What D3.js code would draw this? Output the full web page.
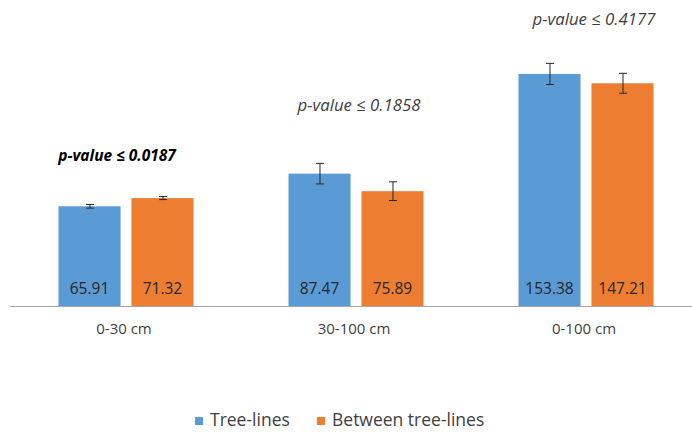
<!DOCTYPE html>
<html>
<head>
<meta charset="utf-8">
<script src="https://cdn.jsdelivr.net/npm/d3@7"></script>
<style>
  body { margin: 0; background: #fff; }
  svg { font-family: "Open Sans", "Noto Sans", sans-serif; }
</style>
</head>
<body>
<svg width="692" height="432"></svg>
<script>
// depth classes along the x axis
var categories = ["0-30 cm", "30-100 cm", "0-100 cm"];
var seriesNames = ["Tree-lines", "Between tree-lines"];
var treeLines = [65.91, 87.47, 153.38];
var betweenLines = [71.32, 75.89, 147.21];
// error bar half-widths
var treeErr = [1.2, 6.8, 7.0];
var betweenErr = [1.0, 6.2, 6.6];
var pValues = ["p-value ≤ 0.0187", "p-value ≤ 0.1858", "p-value ≤ 0.4177"];
var pBold = [true, false, false];
// level (in chart units) where each p-value note sits
var pLevel = [96, 129, 186];

var colors = ["#5B9BD5", "#ED7D31"];
var pShift = [-9, 3, 8];

var svg = d3.select("svg"),
  baseY = 306;

var x0 = d3.scaleBand()
  .domain(categories)
  .range([11, 701])
  .paddingInner(0.413)
  .paddingOuter(0.2065);

var x1 = d3.scaleBand()
  .domain(seriesNames)
  .range([0, x0.bandwidth()])
  .paddingInner(0.15);

var y = d3.scaleLinear()
  .domain([0, 200])
  .range([baseY, baseY - 200 * 1.513]);

var rows = categories.map(function(c, i) {
  return {
    cat: c,
    p: pValues[i],
    bold: pBold[i],
    level: pLevel[i],
    bars: [
      {name: seriesNames[0], value: treeLines[i], err: treeErr[i]},
      {name: seriesNames[1], value: betweenLines[i], err: betweenErr[i]}
    ]
  };
});

// axis line
svg.append("line")
  .attr("x1", 10).attr("x2", 692)
  .attr("y1", baseY + 0.5).attr("y2", baseY + 0.5)
  .attr("stroke", "#a6a6a6")
  .attr("stroke-width", 1);

var g = svg.selectAll("g.group")
  .data(rows)
  .enter().append("g")
  .attr("class", "group")
  .attr("transform", function(d) { return "translate(" + x0(d.cat) + ",0)"; });

var bar = g.selectAll("g.bar")
  .data(function(d) { return d.bars; })
  .enter().append("g")
  .attr("class", "bar");

bar.append("rect")
  .attr("x", function(d) { return x1(d.name); })
  .attr("y", function(d) { return y(d.value); })
  .attr("width", x1.bandwidth())
  .attr("height", function(d) { return baseY - y(d.value); })
  .attr("fill", function(d, i) { return colors[i]; });

// error bars
bar.each(function(d) {
  var cx = Math.round(x1(d.name) + x1.bandwidth() / 2) + 0.5,
    top = y(d.value + d.err),
    bot = y(d.value - d.err),
    s = d3.select(this);
  s.append("line").attr("x1", cx).attr("x2", cx).attr("y1", top).attr("y2", bot);
  s.append("line").attr("x1", cx - 4).attr("x2", cx + 4).attr("y1", top).attr("y2", top);
  s.append("line").attr("x1", cx - 4).attr("x2", cx + 4).attr("y1", bot).attr("y2", bot);
  s.selectAll("line").attr("stroke", "#262626").attr("stroke-width", 1);
});

bar.append("text")
  .attr("x", function(d) { return x1(d.name) + x1.bandwidth() / 2; })
  .attr("y", baseY - 12.5)
  .attr("text-anchor", "middle")
  .attr("font-size", 15.5)
  .attr("fill", "#262626")
  .text(function(d) { return d.value.toFixed(2); });

// p-value labels above each group
g.append("text")
  .attr("x", function(d, i) { return x0.bandwidth() / 2 + pShift[i]; })
  .attr("y", function(d) { return y(d.level); })
  .attr("text-anchor", "middle")
  .attr("font-size", function(d) { return d.bold ? 15.5 : 16.8; })
  .attr("font-style", "italic")
  .attr("font-weight", function(d) { return d.bold ? "bold" : "normal"; })
  .attr("fill", function(d) { return d.bold ? "#000" : "#404040"; })
  .text(function(d) { return d.p; });

// category labels
g.append("text")
  .attr("x", x0.bandwidth() / 2 - 2)
  .attr("y", baseY + 28)
  .attr("text-anchor", "middle")
  .attr("font-size", 15)
  .attr("fill", "#404040")
  .text(function(d) { return d.cat; });

// legend
var legend = svg.append("g").attr("transform", "translate(195,426)");
var legendX = [0, 122];
var item = legend.selectAll("g")
  .data(seriesNames)
  .enter().append("g")
  .attr("transform", function(d, i) { return "translate(" + legendX[i] + ",0)"; });
item.append("rect")
  .attr("x", 0).attr("y", -9)
  .attr("width", 8).attr("height", 8)
  .attr("fill", function(d, i) { return colors[i]; });
item.append("text")
  .attr("x", 15).attr("y", 0)
  .attr("font-size", 17.5)
  .attr("fill", "#404040")
  .text(function(d) { return d; });
</script>
</body>
</html>
